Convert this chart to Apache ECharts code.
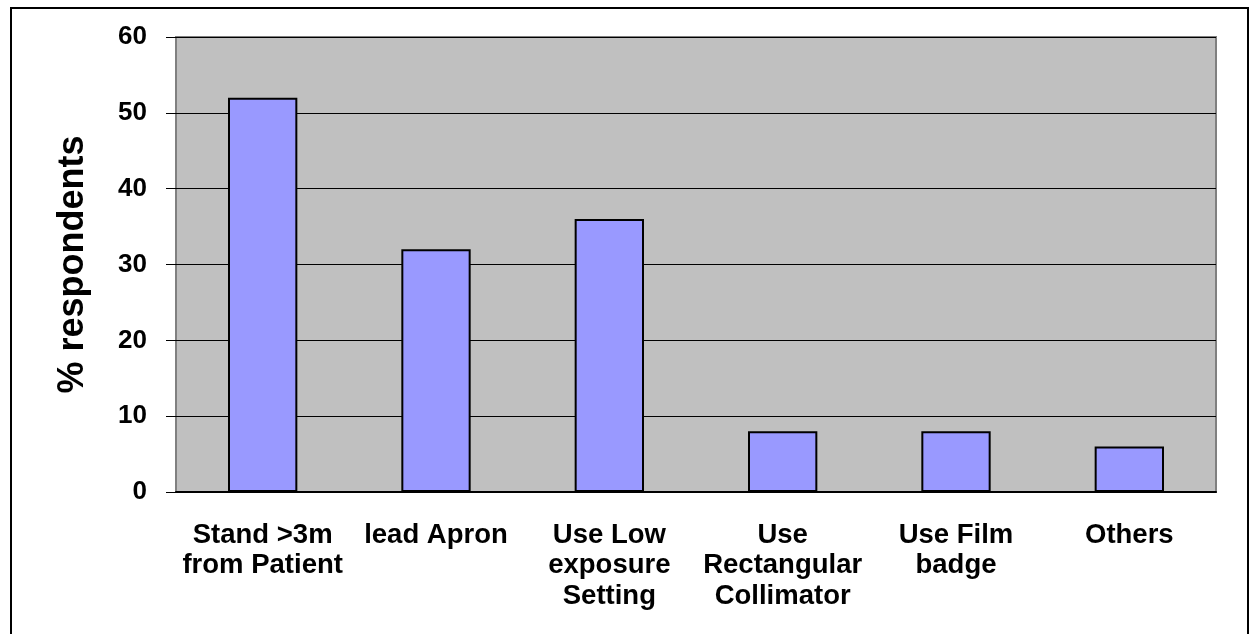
<!DOCTYPE html>
<html>
<head>
<meta charset="utf-8">
<script src="https://cdn.jsdelivr.net/npm/echarts@6/dist/echarts.min.js"></script>
<style>
  html, body { margin: 0; padding: 0; background: #fff; }
  #chart { width: 1250px; height: 634px; }
</style>
</head>
<body>
<div id="chart"></div>
<script>
const categories = [
  'Stand >3m\nfrom Patient',
  'lead Apron',
  'Use Low\nexposure\nSetting',
  'Use\nRectangular\nCollimator',
  'Use Film\nbadge',
  'Others'
];
const respondents = [52, 32, 36, 8, 8, 6];
const yTicks = { min: 0, max: 60, interval: 10 };

const chart = echarts.init(document.getElementById('chart'));
const font = 'Liberation Sans, Arial, sans-serif';

chart.setOption({
  animation: false,
  grid: {
    left: 176, right: 34, top: 37, bottom: 142,
    show: true,
    backgroundColor: '#c0c0c0',
    borderColor: '#808080',
    borderWidth: 2
  },
  graphic: [{
    type: 'polyline',
    shape: { points: [[11, 634], [11, 8], [1248, 8], [1248, 634]] },
    style: { stroke: '#000', lineWidth: 2, fill: null }
  }],
  xAxis: {
    type: 'category',
    data: categories,
    axisLine: { lineStyle: { color: '#000', width: 2 } },
    axisTick: { show: false },
    axisLabel: {
      interval: 0,
      margin: 28,
      color: '#000',
      fontFamily: font,
      fontWeight: 'bold',
      fontSize: 27.5,
      lineHeight: 30.5
    }
  },
  yAxis: {
    type: 'value',
    min: yTicks.min,
    max: yTicks.max,
    interval: yTicks.interval,
    name: '% respondents',
    nameLocation: 'middle',
    nameGap: 85,
    nameTextStyle: {
      color: '#000',
      fontFamily: font,
      fontWeight: 'bold',
      fontSize: 36
    },
    axisLine: { show: false },
    axisTick: { show: true, length: 10, lineStyle: { color: '#000', width: 1 } },
    splitLine: { lineStyle: { color: '#000', width: 1 } },
    axisLabel: {
      margin: 29,
      color: '#000',
      fontFamily: font,
      fontWeight: 'bold',
      fontSize: 26
    }
  },
  series: [{
    type: 'bar',
    data: respondents,
    barWidth: '40%',
    itemStyle: { color: '#9999ff', borderColor: '#000', borderWidth: 2 }
  }]
});
</script>
</body>
</html>
